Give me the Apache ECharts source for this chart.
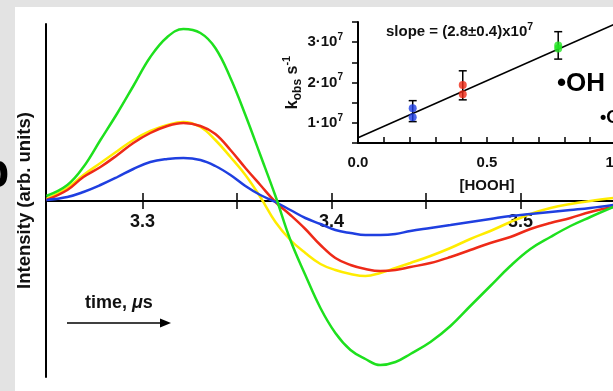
<!DOCTYPE html>
<html>
<head>
<meta charset="utf-8">
<script src="https://cdn.jsdelivr.net/npm/echarts@6/dist/echarts.min.js"></script>
<style>
  html, body { margin: 0; padding: 0; background: #e3e3e3; }
  #chart { width: 613px; height: 391px; }
</style>
</head>
<body>
<div id="chart"></div>
<script>
// main panel: EPR transients, time in microseconds, intensity in arb. units
const timeUs = [3.2492, 3.2603, 3.2688, 3.2778, 3.2868, 3.2952, 3.3042, 3.3132, 3.3217, 3.3307,
  3.3386, 3.3466, 3.3545, 3.3624, 3.3704, 3.3783, 3.3862, 3.3942, 3.4021, 3.4101,
  3.4180, 3.4259, 3.4339, 3.4418, 3.4524, 3.4630, 3.4735, 3.4841, 3.4947, 3.5053,
  3.5159, 3.5265, 3.5370, 3.5492];
const greenTrace = [0.05, 0.16, 0.34, 0.61, 0.88, 1.15, 1.44, 1.64, 1.72, 1.68,
  1.53, 1.23, 0.86, 0.46, 0.05, -0.39, -0.74, -1.07, -1.32, -1.49,
  -1.58, -1.64, -1.61, -1.53, -1.41, -1.25, -1.05, -0.85, -0.65, -0.48,
  -0.36, -0.25, -0.16, -0.06];
const redTrace = [0.01, 0.11, 0.24, 0.34, 0.46, 0.58, 0.68, 0.75, 0.78, 0.75,
  0.67, 0.51, 0.33, 0.16, -0.01, -0.14, -0.28, -0.44, -0.57, -0.64,
  -0.68, -0.70, -0.69, -0.66, -0.62, -0.56, -0.49, -0.42, -0.36, -0.28,
  -0.22, -0.17, -0.11, -0.06];
const yellowTrace = [0.02, 0.13, 0.26, 0.38, 0.50, 0.61, 0.70, 0.76, 0.79, 0.74,
  0.61, 0.44, 0.26, 0.04, -0.21, -0.39, -0.52, -0.63, -0.69, -0.73,
  -0.75, -0.72, -0.67, -0.62, -0.55, -0.47, -0.38, -0.30, -0.21, -0.13,
  -0.07, -0.03, 0.00, 0.03];
const blueTrace = [0.01, 0.04, 0.09, 0.16, 0.24, 0.32, 0.39, 0.42, 0.43, 0.41,
  0.35, 0.26, 0.15, 0.06, -0.01, -0.09, -0.17, -0.23, -0.29, -0.32,
  -0.34, -0.34, -0.33, -0.30, -0.27, -0.24, -0.21, -0.18, -0.15, -0.13,
  -0.11, -0.09, -0.07, -0.04];
const timeTicks = [3.30, 3.35, 3.40, 3.45, 3.50];
const timeLabels = [3.3, 3.4, 3.5];

// inset: kobs vs [HOOH]
const hooh = [0.212, 0.406, 0.776];
const kobsA = [1.36e7, 1.94e7, 2.92e7];
const kobsB = [1.14e7, 1.71e7, 2.84e7];
const errLow = [1.03e7, 1.57e7, 2.58e7];
const errHigh = [1.55e7, 2.29e7, 3.26e7];
const pointColors = ['#1e3ee6', '#f02a16', '#22e622'];
const fitX = [0, 1.0];
const fitY = [0.63e7, 3.46e7];

const FONT = '"Liberation Sans", Arial, sans-serif';
const pair = (xs, ys) => xs.map((x, i) => [x, ys[i]]);
const TMIN = 3.249, TMAX = 3.549;

const chart = echarts.init(document.getElementById('chart'));

const trace = (name, data, color) => ({
  name, type: 'line', xAxisIndex: 0, yAxisIndex: 0,
  data: pair(timeUs, data), smooth: 0.4, symbol: 'none',
  lineStyle: { color, width: 2.5 }, z: 3
});

const points = [];
hooh.forEach((x, i) => {
  points.push({ value: [x, kobsA[i]], itemStyle: { color: pointColors[i] } });
  points.push({ value: [x, kobsB[i]], itemStyle: { color: pointColors[i] } });
});

const tickStyle = { color: '#000', width: 1.5 };

chart.setOption({
  backgroundColor: '#e3e3e3',
  animation: false,
  textStyle: { fontFamily: FONT },
  grid: [
    // curves
    { left: 46, right: 0, top: 24, bottom: 14, outerBoundsMode: 'none' },
    // time axis seen from above (line, downward ticks, labels)
    { left: 46, right: 0, top: 24, height: 177, outerBoundsMode: 'none' },
    // time axis seen from below (upward ticks)
    { left: 46, right: 0, top: 201, bottom: 14, outerBoundsMode: 'none' },
    // inset
    { left: 358, top: 22, width: 258, height: 121, outerBoundsMode: 'none' }
  ],
  xAxis: [
    { gridIndex: 0, type: 'value', min: TMIN, max: TMAX, show: false },
    {
      gridIndex: 1, type: 'value', min: TMIN, max: TMAX, position: 'bottom',
      axisLine: { onZero: false, lineStyle: { color: '#000', width: 2 } },
      axisTick: { customValues: timeTicks, length: 8, lineStyle: tickStyle },
      axisLabel: {
        customValues: timeLabels, margin: 12, color: '#111',
        fontSize: 18, fontWeight: 'bold', fontFamily: FONT,
        formatter: v => v.toFixed(1)
      },
      splitLine: { show: false }
    },
    {
      gridIndex: 2, type: 'value', min: TMIN, max: TMAX, position: 'top',
      axisLine: { show: false, onZero: false },
      axisTick: { customValues: timeTicks, length: 8, lineStyle: tickStyle },
      axisLabel: { show: false },
      splitLine: { show: false }
    },
    {
      gridIndex: 3, type: 'value', min: 0, max: 1, interval: 0.1,
      axisLine: { onZero: false, lineStyle: { color: '#000', width: 2 } },
      axisTick: { inside: true, length: 6, lineStyle: tickStyle },
      axisLabel: {
        margin: 12, color: '#111', fontSize: 15, fontWeight: 'bold', fontFamily: FONT,
        formatter: v => Math.abs(v * 2 - Math.round(v * 2)) < 1e-6 ? v.toFixed(1) : ''
      },
      splitLine: { show: false },
      name: '[HOOH]', nameLocation: 'middle', nameGap: 35,
      nameTextStyle: { color: '#111', fontSize: 15, fontWeight: 'bold', fontFamily: FONT }
    }
  ],
  yAxis: [
    {
      gridIndex: 0, type: 'value', min: -1.76, max: 1.77,
      axisLine: { show: true, onZero: false, lineStyle: { color: '#000', width: 2 } },
      axisTick: { show: false }, axisLabel: { show: false }, splitLine: { show: false },
      name: 'Intensity (arb. units)', nameLocation: 'middle', nameGap: 12,
      nameTextStyle: { color: '#111', fontSize: 18.5, fontWeight: 'bold', fontFamily: FONT }
    },
    { gridIndex: 1, type: 'value', show: false },
    { gridIndex: 2, type: 'value', show: false },
    {
      gridIndex: 3, type: 'value', min: 0.5e7, max: 3.5e7, interval: 0.5e7,
      axisLine: { show: true, onZero: false, lineStyle: { color: '#000', width: 2 } },
      axisTick: { length: 6, lineStyle: tickStyle },
      axisLabel: {
        margin: 15,
        formatter: v => v % 1e7 === 0 ? '{n|' + (v / 1e7) + '·10}{s|7}' : '',
        rich: {
          n: { fontSize: 15, fontWeight: 'bold', color: '#111', fontFamily: FONT, lineHeight: 20 },
          s: { fontSize: 10, fontWeight: 'bold', color: '#111', fontFamily: FONT, lineHeight: 10, verticalAlign: 'top' }
        }
      },
      splitLine: { show: false },
      name: '{k|k}{sub|obs}{k| s}{sup|-1}', nameLocation: 'middle', nameGap: 47,
      nameTextStyle: {
        rich: {
          k: { fontSize: 16, fontWeight: 'bold', color: '#111', fontFamily: FONT, lineHeight: 22 },
          sub: { fontSize: 12, fontWeight: 'bold', color: '#111', fontFamily: FONT, lineHeight: 12, verticalAlign: 'bottom' },
          sup: { fontSize: 11, fontWeight: 'bold', color: '#111', fontFamily: FONT, lineHeight: 11, verticalAlign: 'top' }
        }
      }
    }
  ],
  series: [
    trace('yellow', yellowTrace, '#ffec00'),
    trace('red', redTrace, '#ee2a18'),
    trace('blue', blueTrace, '#1f3fe0'),
    trace('green', greenTrace, '#1ee01e'),
    {
      type: 'line', xAxisIndex: 3, yAxisIndex: 3, data: pair(fitX, fitY),
      symbol: 'none', lineStyle: { color: '#000', width: 1.5 }, z: 2
    },
    {
      type: 'custom', xAxisIndex: 3, yAxisIndex: 3, z: 3,
      data: hooh.map((x, i) => [x, errLow[i], errHigh[i]]),
      renderItem: (params, api) => {
        const top = api.coord([api.value(0), api.value(2)]);
        const bot = api.coord([api.value(0), api.value(1)]);
        const st = { stroke: '#000', lineWidth: 1.5 };
        return {
          type: 'group', children: [
            { type: 'line', shape: { x1: top[0], y1: top[1], x2: bot[0], y2: bot[1] }, style: st },
            { type: 'line', shape: { x1: top[0] - 4, y1: top[1], x2: top[0] + 4, y2: top[1] }, style: st },
            { type: 'line', shape: { x1: bot[0] - 4, y1: bot[1], x2: bot[0] + 4, y2: bot[1] }, style: st }
          ]
        };
      }
    },
    {
      type: 'scatter', xAxisIndex: 3, yAxisIndex: 3, z: 4,
      symbol: 'circle', symbolSize: 8, data: points
    }
  ],
  graphic: [
    { type: 'rect', z: -10, shape: { x: 15, y: 7, width: 598, height: 384 }, style: { fill: '#fff' } },
    { type: 'text', x: -20, y: 174, style: { text: 'b', fill: '#000', font: 'bold 48px ' + FONT, verticalAlign: 'middle' } },
    {
      type: 'text', x: 386, y: 32, z: 10,
      style: {
        text: '{a|slope = (2.8±0.4)x10}{s|7}', verticalAlign: 'middle',
        rich: {
          a: { fontSize: 15, fontWeight: 'bold', fill: '#111', fontFamily: FONT, lineHeight: 20 },
          s: { fontSize: 10.5, fontWeight: 'bold', fill: '#111', fontFamily: FONT, lineHeight: 10, verticalAlign: 'top' }
        }
      }
    },
    { type: 'text', x: 557, y: 84, z: 10, style: { text: '•OH', fill: '#000', font: 'bold 26px ' + FONT, verticalAlign: 'middle' } },
    { type: 'text', x: 600, y: 118, z: 10, style: { text: '•OOH', fill: '#000', font: 'bold 18px ' + FONT, verticalAlign: 'middle' } },
    {
      type: 'text', x: 85, y: 303, z: 10,
      style: {
        text: '{a|time, }{i|μ}{a|s}', verticalAlign: 'middle',
        rich: {
          a: { fontSize: 18, fontWeight: 'bold', fill: '#111', fontFamily: FONT },
          i: { fontSize: 18, fontWeight: 'bold', fontStyle: 'italic', fill: '#111', fontFamily: FONT }
        }
      }
    },
    { type: 'line', z: 10, shape: { x1: 67, y1: 323, x2: 162, y2: 323 }, style: { stroke: '#000', lineWidth: 1.5 } },
    { type: 'polygon', z: 10, shape: { points: [[160, 318.5], [171, 323], [160, 327.5]] }, style: { fill: '#000' } }
  ]
});
</script>
</body>
</html>
